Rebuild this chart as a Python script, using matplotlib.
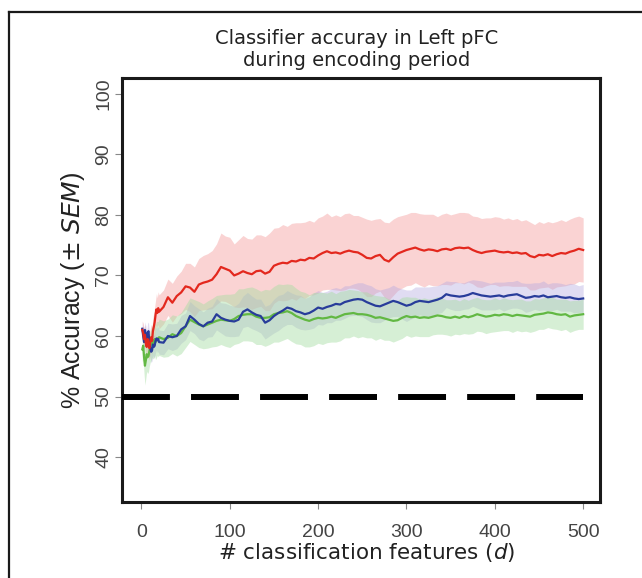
import numpy as np
import matplotlib
matplotlib.use("Agg")
import matplotlib.pyplot as plt
from matplotlib.lines import Line2D

# =============================================================================
# data (x = # features, y = % accuracy, sem = half band)
# =============================================================================
x_early = list(range(1, 21))
x_late = list(range(25, 501, 5))
n_features = np.array(x_early + x_late)

red_acc = [61.0, 60.5, 59.5, 60.2, 58.8, 58.2, 59.5, 58.5, 58.0, 59.0,
           59.8, 59.2, 60.8, 61.5, 62.3, 63.5, 64.4, 63.8, 64.6, 64.0,
           64.8, 66.4, 65.5, 66.6, 67.2, 68.2, 68.0, 67.3, 68.5, 68.8,
           69.0, 69.3, 70.2, 71.4, 71.1, 70.8, 70.0, 70.3, 70.7, 70.4,
           70.2, 70.7, 70.8, 70.3, 70.6, 71.6, 71.9, 72.1, 72.0, 72.4,
           72.3, 72.6, 72.5, 72.9, 72.8, 73.3, 73.7, 74.0, 73.7, 73.8,
           73.6, 73.9, 74.1, 73.9, 73.8, 73.4, 72.9, 72.8, 73.2, 73.4,
           72.6, 72.3, 73.0, 73.6, 73.9, 74.2, 74.4, 74.6, 74.3, 74.1,
           74.3, 74.2, 74.0, 74.3, 74.4, 74.2, 74.5, 74.6, 74.5, 74.6,
           74.2, 73.9, 73.7, 73.9, 74.0, 74.1, 73.9, 73.8, 73.9, 73.7,
           73.8, 73.6, 73.7, 73.2, 73.0, 73.4, 73.3, 73.5, 73.2, 73.5,
           73.7, 73.6, 73.9, 74.1, 74.4, 74.2]
red_sem = [1.5, 1.6, 1.8, 1.7, 1.9, 2.0, 1.9, 2.1, 2.0, 2.2,
           2.1, 2.3, 2.2, 2.4, 2.5, 2.4, 2.6, 2.5, 2.7, 2.8,
           2.8, 3.0, 3.2, 3.3, 3.5, 3.8, 4.0, 4.1, 4.3, 4.5,
           4.6, 4.8, 5.0, 5.6, 5.4, 5.5, 5.2, 5.6, 5.9, 5.7,
           5.8, 6.0, 5.9, 6.1, 6.4, 6.2, 6.0, 6.3, 6.1, 6.2,
           6.4, 6.1, 6.3, 6.2, 6.0, 6.2, 6.1, 6.3, 6.0, 6.2,
           6.1, 6.3, 6.2, 6.0, 6.1, 6.2, 6.4, 6.3, 6.1, 6.0,
           6.2, 6.4, 6.3, 6.1, 6.0, 5.9, 6.0, 5.8, 5.9, 6.0,
           5.8, 5.9, 5.7, 5.8, 5.9, 5.8, 5.7, 5.8, 5.9, 5.7,
           5.6, 5.8, 5.7, 5.6, 5.5, 5.6, 5.7, 5.5, 5.6, 5.5,
           5.6, 5.4, 5.5, 5.6, 5.4, 5.5, 5.3, 5.4, 5.5, 5.4,
           5.5, 5.3, 5.4, 5.5, 5.4, 5.3]

blue_acc = [61.2, 60.0, 59.0, 61.0, 60.2, 59.3, 60.5, 60.8, 59.0, 58.0,
            57.4, 57.6, 58.6, 58.2, 58.4, 59.2, 59.6, 59.3, 59.5, 59.0,
            58.9, 60.0, 59.8, 60.0, 61.1, 61.6, 63.3, 62.7, 62.0, 61.6,
            62.2, 62.4, 63.6, 63.0, 62.7, 62.5, 62.4, 62.7, 64.0, 64.4,
            63.9, 63.5, 63.3, 62.2, 62.6, 63.3, 63.8, 64.2, 64.7, 64.5,
            64.1, 63.9, 63.6, 63.8, 64.2, 64.7, 64.5, 64.8, 65.0, 65.3,
            65.2, 65.6, 65.8, 66.0, 66.1, 66.0, 65.6, 65.3, 65.0, 64.9,
            65.2, 65.5, 65.8, 65.6, 65.3, 65.0, 65.2, 65.6, 65.8, 65.7,
            65.6, 65.8, 66.0, 66.3, 66.9, 66.7, 66.6, 66.5, 66.6, 66.8,
            67.1, 66.9, 66.7, 66.6, 66.5, 66.6, 66.7, 66.5, 66.7, 66.8,
            66.9, 66.6, 66.3, 66.4, 66.6, 66.5, 66.7, 66.4, 66.5, 66.6,
            66.4, 66.3, 66.4, 66.2, 66.1, 66.2]
blue_sem = [1.2, 1.3, 1.4, 1.3, 1.5, 1.4, 1.6, 1.5, 1.7, 1.6,
            1.8, 1.7, 1.8, 1.9, 1.8, 2.0, 1.9, 2.0, 2.1, 2.0,
            2.0, 2.1, 2.2, 2.1, 2.3, 2.2, 2.4, 2.3, 2.5, 2.4,
            2.4, 2.5, 2.6, 2.5, 2.7, 2.6, 2.5, 2.7, 2.6, 2.8,
            2.7, 2.6, 2.8, 2.7, 2.6, 2.8, 2.9, 2.7, 2.8, 2.6,
            2.7, 2.8, 2.6, 2.7, 2.9, 2.8, 2.7, 2.6, 2.8, 2.7,
            2.6, 2.7, 2.5, 2.6, 2.7, 2.8, 2.9, 3.0, 2.8, 2.7,
            2.6, 2.5, 2.6, 2.4, 2.5, 2.6, 2.4, 2.5, 2.3, 2.4,
            2.5, 2.4, 2.3, 2.4, 2.2, 2.3, 2.4, 2.3, 2.2, 2.3,
            2.2, 2.3, 2.4, 2.3, 2.2, 2.3, 2.2, 2.4, 2.3, 2.2,
            2.3, 2.2, 2.4, 2.3, 2.2, 2.3, 2.4, 2.2, 2.3, 2.2,
            2.3, 2.2, 2.3, 2.4, 2.2, 2.3]

green_acc = [57.8, 58.4, 56.5, 55.1, 56.0, 57.0, 56.5, 56.7, 57.5, 58.3,
             58.6, 59.0, 58.8, 59.2, 59.5, 59.0, 59.4, 59.6, 59.5, 59.8,
             59.5, 59.7, 60.3, 60.0, 60.5, 61.6, 62.7, 62.3, 61.9, 61.6,
             61.9, 62.2, 62.5, 62.7, 62.6, 62.5, 62.8, 63.3, 63.5, 63.6,
             63.6, 63.2, 63.0, 63.0, 63.1, 63.6, 63.8, 63.9, 64.1, 63.8,
             63.3, 63.0, 62.7, 62.5, 62.8, 63.0, 62.9, 63.0, 63.2, 63.0,
             63.3, 63.6, 63.7, 63.8, 63.6, 63.6, 63.5, 63.3, 63.0, 63.1,
             62.9, 62.7, 62.5, 62.6, 63.0, 63.3, 63.1, 63.2, 63.0, 63.1,
             63.0, 63.2, 63.4, 63.3, 63.1, 63.0, 63.2, 63.0, 63.3, 63.1,
             63.3, 63.6, 63.4, 63.2, 63.3, 63.5, 63.4, 63.6, 63.5, 63.3,
             63.5, 63.4, 63.3, 63.2, 63.5, 63.6, 63.7, 63.9, 63.8, 63.6,
             63.5, 63.6, 63.2, 63.4, 63.5, 63.6]
green_sem = [2.0, 2.3, 2.8, 3.2, 3.0, 2.8, 2.7, 2.6, 2.5, 2.6,
             2.7, 2.5, 2.6, 2.8, 2.7, 2.9, 3.0, 2.8, 2.9, 3.0,
             3.0, 3.1, 3.2, 3.3, 3.4, 3.5, 3.6, 3.7, 3.8, 3.7,
             3.9, 4.0, 4.2, 4.1, 4.3, 4.4, 4.2, 4.5, 4.3, 4.4,
             4.5, 4.6, 4.4, 4.7, 4.5, 4.6, 4.8, 4.6, 4.5, 4.7,
             4.6, 4.4, 4.5, 4.3, 4.4, 4.2, 4.3, 4.1, 4.2, 4.0,
             4.1, 3.9, 4.0, 3.8, 3.9, 3.7, 3.8, 3.6, 3.7, 3.5,
             3.6, 3.4, 3.5, 3.3, 3.4, 3.2, 3.3, 3.2, 3.1, 3.2,
             3.1, 3.0, 3.1, 3.0, 2.9, 3.0, 2.9, 2.8, 2.9, 2.8,
             2.9, 2.8, 2.7, 2.8, 2.7, 2.8, 2.6, 2.7, 2.6, 2.7,
             2.6, 2.7, 2.5, 2.6, 2.7, 2.5, 2.6, 2.5, 2.6, 2.5,
             2.6, 2.5, 2.6, 2.5, 2.4, 2.5]

chance_level = 50
x_ticks = [0, 100, 200, 300, 400, 500]
y_ticks = [40, 50, 60, 70, 80, 90, 100]

# =============================================================================
# plot
# =============================================================================
plt.rcParams['lines.scale_dashes'] = False
TICK_FONT = ['Liberation Sans', 'DejaVu Sans']

fig = plt.figure(figsize=(6.42, 5.78), dpi=100)
ax = fig.add_axes([0.190, 0.1315, 0.7445, 0.7336])

series = [
    (red_acc, red_sem, '#e3281e', '#f6b0b0', 0.55),
    (blue_acc, blue_sem, '#283c9a', '#b2a8e0', 0.40),
    (green_acc, green_sem, '#62b843', '#a6dda2', 0.45),
]
for acc, sem, _, fill_col, alpha in series:
    acc = np.array(acc)
    sem = np.array(sem)
    ax.fill_between(n_features, acc - sem, acc + sem, color=fill_col,
                    alpha=alpha, linewidth=0, zorder=1)

for acc, _, line_col, _, _ in series[::-1]:
    ax.plot(n_features, acc, color=line_col, linewidth=1.6, zorder=3)

ax.set_xlim(-22, 519)
ax.set_ylim(32.6, 102.6)

# chance line
ax.plot([-22, 500], [chance_level, chance_level], color='black',
        linewidth=4.3, dashes=(34.5, 15.2), solid_capstyle='butt',
        dash_capstyle='butt', zorder=4)

for sp in ax.spines.values():
    sp.set_linewidth(2.2)
    sp.set_color('#1a1a1a')

ax.set_xticks(x_ticks)
ax.set_yticks(y_ticks)
ax.tick_params(axis='both', direction='out', length=5, width=0.8,
               color='#888888', labelcolor='#444444', labelsize=14)
for lab in ax.get_xticklabels() + ax.get_yticklabels():
    lab.set_family(TICK_FONT)
for lab in ax.get_yticklabels():
    lab.set_rotation(90)
    lab.set_va('center')
ax.tick_params(axis='x', pad=11)
ax.tick_params(axis='y', pad=2)

ax.set_xlabel(r'# classification features ($d$)', fontsize=15.5,
              color='#222222', family=['DejaVu Sans'], labelpad=0)
ax.xaxis.label.set_x(0.512)
ax.set_ylabel(r'% Accuracy ($\pm$ $SEM$)', fontsize=18,
              color='#222222', family=TICK_FONT, labelpad=6)

fig.text(0.556, 1 - 50 / 578, 'Classifier accuray in Left pFC\nduring encoding period',
         ha='center', va='center', fontsize=14, color='#222222',
         family=['DejaVu Sans'], linespacing=1.2)

# outer frame (top and left edges only)
fig.add_artist(Line2D([9 / 642, 1.0], [1 - 12 / 578, 1 - 12 / 578],
                      color='#1a1a1a', linewidth=1.6, transform=fig.transFigure))
fig.add_artist(Line2D([9 / 642, 9 / 642], [0.0, 1 - 12 / 578],
                      color='#1a1a1a', linewidth=1.6, transform=fig.transFigure))

fig.savefig('out.png', dpi=100)
